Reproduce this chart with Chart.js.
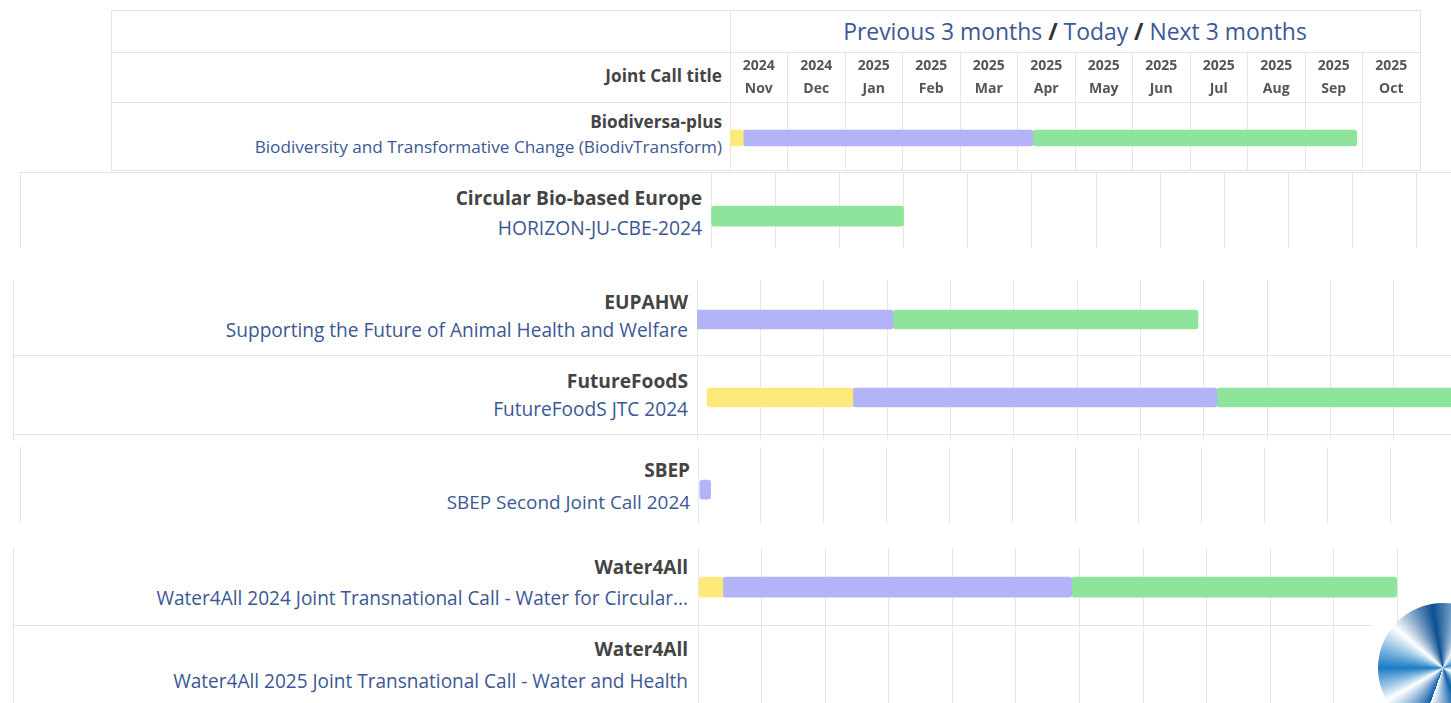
<!DOCTYPE html>
<html>
<head>
<meta charset="utf-8">
<script src="https://cdn.jsdelivr.net/npm/chart.js@4/dist/chart.umd.min.js"></script>
<style>
html,body{margin:0;padding:0;width:1451px;height:703px;overflow:hidden;background:#fff;font-family:"Open Sans",sans-serif;}
.hl{position:absolute;height:1px;background:#e3e3e3;}
.vl{position:absolute;width:1px;background:#e3e3e3;}
.txt{position:absolute;white-space:nowrap;text-align:right;}
.name{font-weight:bold;color:#444;}
.sub{color:#3b5894;}
canvas{position:absolute;}
#logo{position:absolute;left:1378px;top:603px;width:130px;height:130px;border-radius:50%;
 background:conic-gradient(from 200deg,#0d5ea8,#ffffff 40deg,#1a7cc4 70deg,#ffffff 110deg,#0b4f93 150deg,#e8f4fb 190deg,#2b8fd0 230deg,#ffffff 270deg,#0d5ea8 320deg,#ffffff 360deg);}
</style>
</head>
<body>
<script>
// ---------------- data ----------------
const programmes = ['Biodiversa-plus', 'Circular Bio-based Europe', 'EUPAHW', 'FutureFoodS', 'SBEP', 'Water4All', 'Water4All'];
const callTitles = [
  'Biodiversity and Transformative Change (BiodivTransform)',
  'HORIZON-JU-CBE-2024',
  'Supporting the Future of Animal Health and Welfare',
  'FutureFoodS JTC 2024',
  'SBEP Second Joint Call 2024',
  'Water4All 2024 Joint Transnational Call - Water for Circular...',
  'Water4All 2025 Joint Transnational Call - Water and Health'
];
const monthYears = ['2024', '2024', '2025', '2025', '2025', '2025', '2025', '2025', '2025', '2025', '2025', '2025'];
const monthNames = ['Nov', 'Dec', 'Jan', 'Feb', 'Mar', 'Apr', 'May', 'Jun', 'Jul', 'Aug', 'Sep', 'Oct'];
// phases, in months counted from 1 Nov 2024 (start, end)
const preAnnouncement = [[-0.3, 0.23], null, null, [0.16, 2.46], null, [0.02, 0.39], null];
const openForSubmission = [[0.23, 5.27], null, [-0.3, 3.1], [2.46, 8.21], [0.03, 0.2], [0.39, 5.88], null];
const evaluation = [[5.27, 10.9], [0, 3.0], [3.1, 7.91], [8.21, 12.5], null, [5.88, 10.99], null];
const headerParts = ['Previous 3 months', 'Today', 'Next 3 months'];
const columnTitle = 'Joint Call title';

// ---------------- layout (styles & positions) ----------------
const GRID = '#e6e6e6';
const COLORS = ['#fde97a', '#b3b3f7', '#8ee49a'];
const panels = [
  {rows: [0], x0: 730, monthW: 57.5, top: 52, height: 118, header: true, yMin: -0.53, yMax: 0.47, thick: 16,
   labelRight: 722, centers: [[122, 147]], nameSize: 17.2, subSize: 17.2},
  {rows: [1], x0: 711, monthW: 64.2, top: 172, height: 76, yMin: -0.58, yMax: 0.42, thick: 20,
   labelRight: 702, centers: [[197, 227]], nameSize: 19.2, subSize: 19.3},
  {rows: [2, 3], x0: 697, monthW: 63.3, top: 280, height: 160, yMin: -0.506, yMax: 1.545, thick: 19,
   labelRight: 688, centers: [[301, 330], [380, 409]], nameSize: 19.2, subSize: 19.1},
  {rows: [4], x0: 698, monthW: 62.9, top: 447, height: 76, yMin: -0.56, yMax: 0.44, thick: 19,
   labelRight: 690, centers: [[470, 502]], nameSize: 19, subSize: 18.9},
  {rows: [5, 6], x0: 698, monthW: 63.6, top: 548, height: 155, yMin: -0.49, yMax: 1.45, thick: 20,
   labelRight: 688, centers: [[567, 598], [649, 681]], nameSize: 19, subSize: 19.05}
];
const lines = [
  ['h', 111, 10, 1310], ['h', 111, 52, 1310], ['h', 111, 102, 620], ['h', 111, 170, 1310],
  ['v', 111, 10, 160], ['v', 730, 10, 160], ['v', 1420, 10, 160],
  ['h', 20, 172, 1431], ['v', 20, 172, 76],
  ['v', 13, 280, 160], ['h', 13, 355, 1438], ['h', 13, 434, 1438],
  ['v', 20, 447, 76],
  ['v', 13, 548, 155], ['h', 13, 625, 1359]
];

function el(tag, cls, css, html) {
  const e = document.createElement(tag);
  if (cls) e.className = cls;
  Object.assign(e.style, css);
  if (html !== undefined) e.innerHTML = html;
  document.body.appendChild(e);
  return e;
}

lines.forEach(([t, x, y, len]) => {
  if (t === 'h') el('div', 'hl', {left: x + 'px', top: y + 'px', width: len + 'px'});
  else el('div', 'vl', {left: x + 'px', top: y + 'px', height: len + 'px'});
});

function rightText(cls, text, right, cy, size) {
  const lh = Math.round(size * 1.4);
  el('div', 'txt ' + cls, {right: (1451 - right) + 'px', top: (cy - lh / 2) + 'px', fontSize: size + 'px', lineHeight: lh + 'px'}).textContent = text;
}

// header of the table
el('div', 'txt', {left: '730px', width: '690px', textAlign: 'center', top: '17px', fontSize: '22.9px', lineHeight: '30px', color: '#3b5894'},
  headerParts.map(p => '<span>' + p + '</span>').join(' <b style="color:#333">/</b> '));
rightText('name', columnTitle, 722, 76, 17.2);

function makeChart(p) {
  p.rows.forEach((r, i) => {
    rightText('name', programmes[r], p.labelRight, p.centers[i][0], p.nameSize);
    rightText('sub', callTitles[r], p.labelRight, p.centers[i][1], p.subSize);
  });
  const c = document.createElement('canvas');
  const w = Math.round(12 * p.monthW) + 4;
  c.width = w; c.height = p.height;
  Object.assign(c.style, {left: (p.x0 - 2) + 'px', top: p.top + 'px', width: w + 'px', height: p.height + 'px'});
  document.body.appendChild(c);
  const mk = arr => p.rows.map((r, i) => arr[r] ? {x: arr[r], y: i} : null).filter(Boolean);
  const datasets = [
    {label: 'Pre-announcement', data: mk(preAnnouncement)},
    {label: 'Open for submission', data: mk(openForSubmission)},
    {label: 'Evaluation', data: mk(evaluation)}
  ].map((d, k) => Object.assign(d, {backgroundColor: COLORS[k], barThickness: p.thick, grouped: false, borderRadius: 3, borderSkipped: false}));
  const scales = {
    x: {type: 'linear', min: 0, max: 12, offset: false, grid: {display: !p.header, color: GRID, drawTicks: false, offset: false},
        border: {display: false}, ticks: {display: false, stepSize: 1, maxTicksLimit: 20}},
    y: {type: 'linear', min: p.yMin, max: p.yMax, reverse: true, display: false, offset: false, grid: {offset: false}}
  };
  if (p.header) {
    scales.x2 = {
      type: 'category', position: 'top', offset: true,
      labels: monthNames.map((m, i) => [monthYears[i], m]),
      grid: {offset: true, color: GRID, tickLength: 50, tickColor: GRID},
      border: {display: true, color: GRID},
      ticks: {color: '#555', padding: -48, autoSkip: false, maxRotation: 0, minRotation: 0,
              font: {family: 'Open Sans', weight: 'bold', size: 14, lineHeight: 1.6}},
      afterFit: s => { s.height = 50; }
    };
  }
  new Chart(c, {
    type: 'bar',
    data: {datasets},
    options: {
      indexAxis: 'y', responsive: false, animation: false,
      layout: {padding: {left: 2, right: 2, top: 0, bottom: 0}},
      plugins: {legend: {display: false}, tooltip: {enabled: false}},
      scales
    }
  });
}
panels.forEach(makeChart);
el('div', '', {}, '').id = 'logo';
</script>
</body>
</html>
